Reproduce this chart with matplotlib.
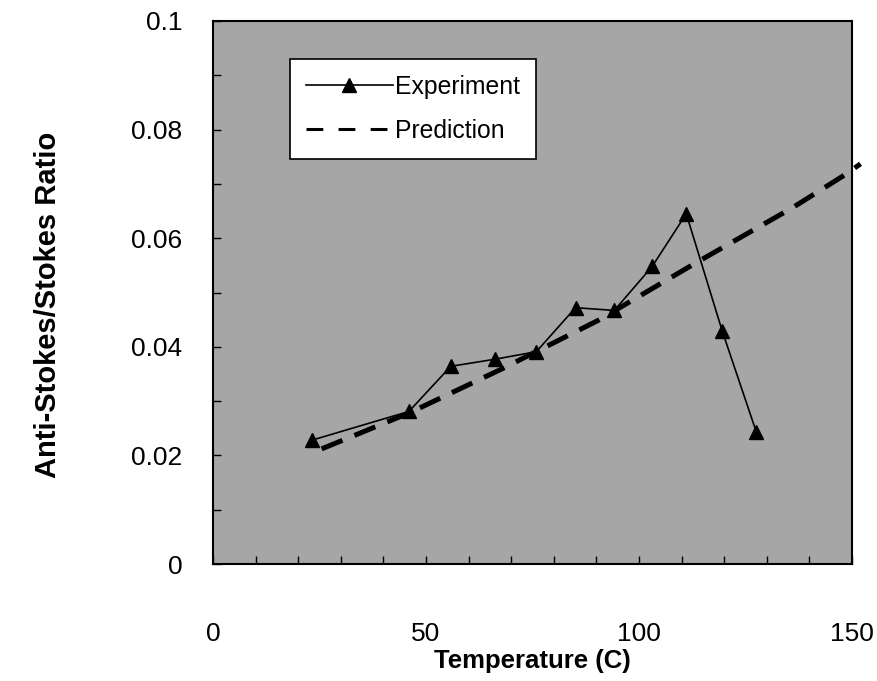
import matplotlib
matplotlib.use("Agg")
import matplotlib.pyplot as plt
from matplotlib.ticker import MultipleLocator

plt.rcParams['font.family'] = ['Liberation Sans', 'DejaVu Sans']

# Experiment data
exp_temp = [23.2, 46.0, 55.8, 66.1, 75.9, 85.1, 94.2, 103.1, 111.1, 119.5, 127.5]
exp_ratio = [0.0228, 0.0281, 0.0364, 0.0377, 0.0391, 0.0472, 0.0467, 0.0548, 0.0645, 0.0430, 0.0244]

# Prediction curve
pred_temp = [25.5, 46.0, 68.0, 90.5, 113.0, 136.0, 149.0, 152.0]
pred_ratio = [0.0212, 0.0278, 0.0360, 0.0449, 0.0553, 0.0656, 0.0720, 0.0737]

xticks = [0, 50, 100, 150]
yticks = [0, 0.02, 0.04, 0.06, 0.08, 0.1]
ytick_labels = ['0', '0.02', '0.04', '0.06', '0.08', '0.1']

fig = plt.figure(figsize=(8.78, 6.81), dpi=100)
ax = fig.add_axes([213/878, 1 - 564/681, (852 - 213)/878, (564 - 21)/681])
ax.set_facecolor('#a6a6a6')

ax.plot(exp_temp, exp_ratio, color='black', lw=1.2, marker='^', markersize=10,
        markerfacecolor='black', markeredgecolor='black', label='Experiment', zorder=3)
ax.plot(pred_temp, pred_ratio, color='black', lw=3.6, linestyle=(0, (4.5, 2.6)),
        label='Prediction', clip_on=False, zorder=2)

ax.set_xlim(0, 150)
ax.set_ylim(0, 0.1)
ax.set_xticks(xticks)
ax.set_xticklabels([str(t) for t in xticks])
ax.set_yticks(yticks)
ax.set_yticklabels(ytick_labels)
ax.xaxis.set_minor_locator(MultipleLocator(10))
ax.yaxis.set_minor_locator(MultipleLocator(0.01))
ax.tick_params(axis='both', which='both', direction='in', length=6, width=1,
               top=False, right=False)
ax.tick_params(axis='x', which='major', labelsize=19, pad=42)
ax.tick_params(axis='y', which='major', labelsize=19, pad=22)
for s in ax.spines.values():
    s.set_linewidth(1.5)

ax.set_xlabel('Temperature (C)', fontsize=18.5, fontweight='bold', labelpad=2)
ax.set_ylabel('Anti-Stokes/Stokes Ratio', fontsize=21, fontweight='bold')
ax.yaxis.set_label_coords((62 - 213)/639, (564 - 305)/543)

leg = ax.legend(loc='upper left', bbox_to_anchor=((290 - 213)/639, 1 - (59 - 21)/543),
                fontsize=17.8, frameon=True, fancybox=False, framealpha=1,
                edgecolor='black', facecolor='white', handlelength=3.5,
                handletextpad=0.1, borderpad=0.65, labelspacing=0.8, borderaxespad=0)
leg.get_frame().set_linewidth(1.2)
for line in leg.get_lines():
    if line.get_label() == 'Prediction':
        line.set_linewidth(2.2)
        line.set_linestyle((0, (5.5, 5.0)))

fig.savefig('out.png', dpi=100)
